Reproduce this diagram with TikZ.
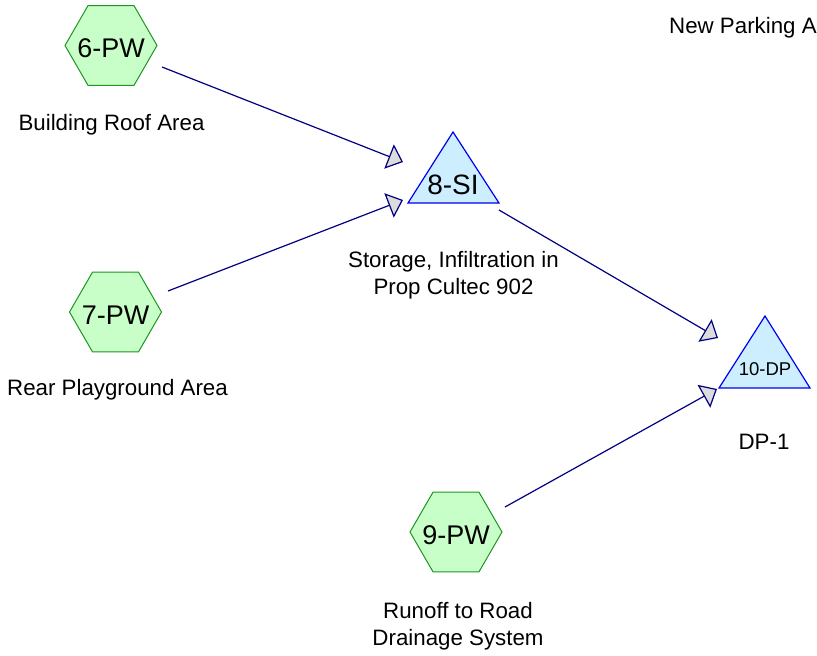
\documentclass[tikz,border=0pt]{standalone}
\usepackage{fontspec}
\setmainfont{Liberation Sans}
\usetikzlibrary{shapes.geometric,arrows.meta}
\definecolor{hexfill}{HTML}{C8FFC8}
\definecolor{hexline}{HTML}{1E961E}
\definecolor{trifill}{HTML}{CCEEFF}
\definecolor{triline}{HTML}{0000F0}
\definecolor{linknavy}{HTML}{000080}
\definecolor{headfill}{HTML}{DCDCDC}
\tikzset{
  hexnode/.style={regular polygon, regular polygon sides=6, minimum size=92pt, inner sep=0pt,
    draw=hexline, fill=hexfill, line width=1pt, font=\fontsize{27}{27}\selectfont},
  tripath/.style={draw=triline, fill=trifill, line width=1.2pt, line join=miter},
  trilabel/.style={inner sep=0pt, anchor=base},
  lbl/.style={inner sep=0pt, anchor=base, align=center, font=\fontsize{22.3}{27}\selectfont},
  link/.style={draw=linknavy, line width=1.2pt,
    -{Triangle[length=15pt, width=26pt, fill=headfill]}},
}
\begin{document}
\begin{tikzpicture}[x=1pt, y=-1pt]
\useasboundingbox (0,0) rectangle (817,656);

% hexagon sources
\node[hexnode] (n6) at (111,45.5) {};
\node[inner sep=0pt, anchor=base, font=\fontsize{27}{27}\selectfont] (t6) at (111,57) {6-PW};
\node[hexnode] (n7) at (115.5,312) {};
\node[inner sep=0pt, anchor=base, font=\fontsize{27}{27}\selectfont] (t7) at (115.5,324) {7-PW};
\node[hexnode] (n9) at (456,532) {};
\node[inner sep=0pt, anchor=base, font=\fontsize{27}{27}\selectfont] (t9) at (456,544) {9-PW};

% triangles
\draw[tripath] (453,132) -- (408,203) -- (499,203) -- cycle;
\node[trilabel, font=\fontsize{28}{28}\selectfont] (n8) at (453,194) {8-SI};
\draw[tripath] (765,316) -- (719,388) -- (810,388) -- cycle;
\node[trilabel, font=\fontsize{18.5}{18.5}\selectfont] (n10) at (765,375) {10-DP};

% labels
\node[lbl] (l6) at (111.5,130) {Building Roof Area};
\node[lbl] (l7) at (117.5,395) {Rear Playground Area};
\node[lbl] (l8) at (453.5,294) {Storage, Infiltration in\\Prop Cultec 902};
\node[lbl] (l9) at (458,645) {Runoff to Road\\Drainage System};
\node[lbl] (l10) at (764,449) {DP-1};
\node[lbl, anchor=base west] (lnp) at (669,33) {New Parking A};

% connector end points
\coordinate (s6) at (162,67);
\coordinate (e6) at (403,162);
\coordinate (s7) at (168,291);
\coordinate (e7) at (403,200);
\coordinate (s8) at (499,210);
\coordinate (e8) at (718,338);
\coordinate (s9) at (505,507);
\coordinate (e9) at (717,389);

\draw[link] (s6) -- (e6);
\draw[link] (s7) -- (e7);
\draw[link] (s8) -- (e8);
\draw[link] (s9) -- (e9);
\end{tikzpicture}
\end{document}
